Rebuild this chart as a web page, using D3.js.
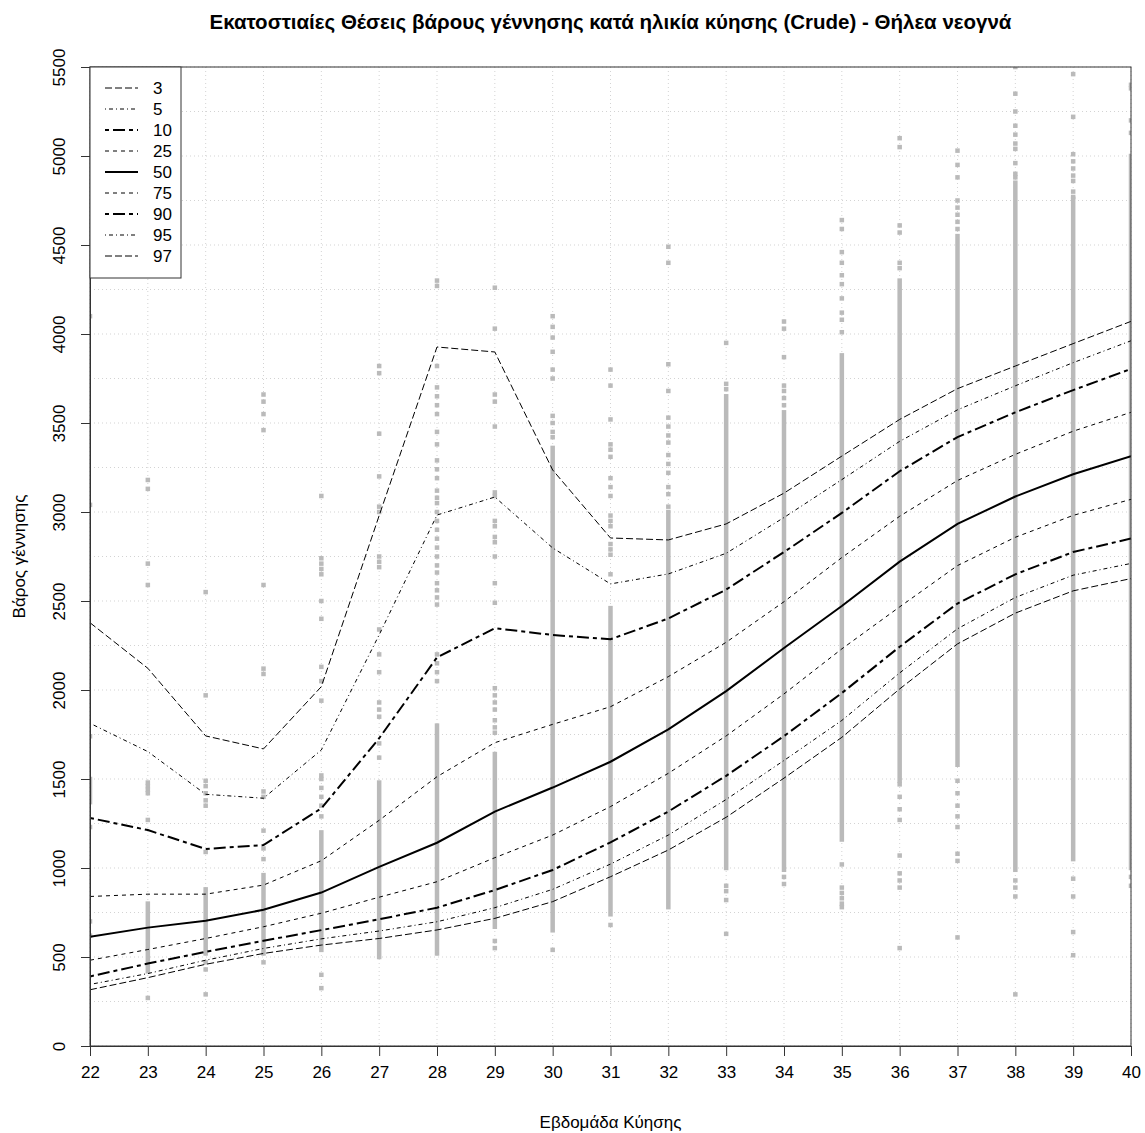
<!DOCTYPE html>
<html><head><meta charset="utf-8">
<script src="https://cdn.jsdelivr.net/npm/d3@7"></script>
<style>body{margin:0;background:#fff}svg{display:block}text{font-family:"Liberation Sans",Arial,sans-serif}</style>
</head><body>
<svg id="chart" width="1145" height="1133"></svg>
<script>
const weeks = [22,23,24,25,26,27,28,29,30,31,32,33,34,35,36,37,38,39,40];
const p3  = [316,384,459,520,567,604,652,717,811,951,1101,1285,1505,1734,2006,2259,2432,2557,2626];
const p5  = [346,407,482,548,602,646,698,777,880,1022,1185,1385,1604,1829,2096,2344,2520,2645,2711];
const p10 = [391,463,529,591,651,712,777,876,989,1144,1317,1518,1741,1983,2243,2486,2650,2775,2851];
const p25 = [482,542,604,670,746,836,923,1058,1185,1345,1532,1742,1978,2231,2467,2699,2858,2981,3071];
const p50 = [614,665,704,765,862,1006,1142,1317,1452,1597,1779,1994,2236,2472,2721,2933,3087,3212,3314];
const p75 = [840,853,853,904,1041,1268,1513,1704,1807,1906,2075,2268,2496,2744,2976,3177,3324,3454,3560];
const p90 = [1281,1213,1107,1129,1335,1729,2183,2347,2309,2285,2402,2564,2775,2995,3229,3421,3560,3685,3804];
const p95 = [1813,1654,1414,1392,1663,2310,2983,3084,2798,2596,2652,2768,2969,3182,3397,3574,3709,3839,3962];
const p97 = [2378,2122,1742,1669,2019,2980,3927,3899,3236,2854,2843,2933,3106,3314,3520,3693,3820,3946,4071];
const legendLabels = ["3","5","10","25","50","75","90","95","97"];
const yTicks = [0,500,1000,1500,2000,2500,3000,3500,4000,4500,5000,5500];
// observed birth weights: dense column ranges and isolated values, per week
const bandLo = [1370,420,520,520,540,500,520,670,650,740,780,1000,990,1160,1490,1580,990,1050,1000];
const bandHi = [1500,800,880,960,1200,1480,1800,1640,3360,2460,3000,3650,3560,3880,4300,4550,4850,4760,5000];
const isolated = [
 [4100,3040,1740,1230,700,620],
 [3180,3130,2710,2590,1480,1460,1440,1420,1270,270],
 [2550,1970,1490,1460,1420,1380,1350,1090,470,430,290],
 [3660,3620,3550,3460,2590,2120,2090,1430,1400,1210,1110,1050,470],
 [3090,2740,2710,2680,2650,2500,2400,2130,2050,1940,1520,1500,1450,1400,1350,1290,400,325],
 [3820,3780,3440,3200,3030,3000,2750,2720,2690,2340,2200,2100,1930,1890,1850,1700,1620],
 [4300,4270,3820,3700,3650,3600,3550,3450,3380,3290,3240,3190,3120,3080,3050,3000,2950,2900,2850,2800,2750,2700,2660,2600,2560,2520,2480,2200,2150,2100,2050],
 [4260,4030,3660,3620,3480,3110,3090,2950,2920,2860,2830,2750,2600,2490,2010,1970,1930,1890,1830,1790,1760,590,550],
 [4100,4040,3980,3900,3800,3750,3540,3500,3450,3420,540],
 [3800,3710,3520,3380,3350,3310,3190,3140,3090,2980,2950,2920,2820,2790,2760,2650,680],
 [4490,4400,3830,3680,3530,3480,3430,3390,3320,3270,3220,3140,3100,3030],
 [3950,3720,3690,900,870,820,630],
 [4070,4030,3870,3710,3680,3640,3600,950,910],
 [4640,4590,4460,4400,4330,4280,4200,4120,4080,4010,1020,890,860,830,800,780],
 [5100,5050,4610,4570,4400,4370,1470,1400,1330,1270,1070,970,930,890,550],
 [5030,4950,4880,4750,4710,4670,4630,4590,1490,1420,1350,1290,1230,1080,1040,610],
 [5500,5350,5250,5170,5120,5070,5040,4960,4900,4880,930,890,840,290],
 [5460,5220,5010,4970,4930,4890,4860,4800,4770,940,840,640,510],
 [5400,5380,5200,5130,950,900]
];

const series = [p3,p5,p10,p25,p50,p75,p90,p95,p97];
const styles = [
 {w:1, d:"7,3"}, {w:1, d:"1,3,4,3"}, {w:2, d:"4,4,12,4"}, {w:1, d:"4,4"}, {w:2, d:null},
 {w:1, d:"4,4"}, {w:2, d:"4,4,12,4"}, {w:1, d:"1,3,4,3"}, {w:1, d:"7,3"}
];

const svg = d3.select("#chart");
const L=90, R=1131, T=67, B=1046;
const x = d3.scaleLinear().domain([22,40]).range([L,R]);
const y = d3.scaleLinear().domain([0,5500]).range([B,T]);

svg.append("defs").append("clipPath").attr("id","clip")
  .append("rect").attr("x",L).attr("y",T).attr("width",R-L).attr("height",B-T);

// grid
const grid = svg.append("g");
weeks.forEach(w => grid.append("line").attr("x1",x(w)).attr("x2",x(w)).attr("y1",T).attr("y2",B)
  .attr("stroke","#d3d3d3").attr("stroke-dasharray","1,3"));
d3.range(0,5501,250).forEach(v => grid.append("line").attr("x1",L).attr("x2",R).attr("y1",y(v)).attr("y2",y(v))
  .attr("stroke","#d3d3d3").attr("stroke-dasharray","1,3"));

// observations
const pts = svg.append("g").attr("clip-path","url(#clip)").attr("fill","#bababa");
const ps = 4.5;
weeks.forEach((w,i) => {
  pts.append("rect").attr("x",x(w)-ps/2).attr("y",y(bandHi[i])-ps/2).attr("width",ps)
    .attr("height",y(bandLo[i])-y(bandHi[i])+ps);
  isolated[i].forEach(v => pts.append("rect").attr("x",x(w)-ps/2).attr("y",y(v)-ps/2).attr("width",ps).attr("height",ps));
});

// percentile lines
const line = d3.line().x((d,i)=>x(weeks[i])).y(d=>y(d));
series.forEach((s,k) => {
  const p = svg.append("path").datum(s).attr("d",line).attr("fill","none").attr("stroke","#000")
    .attr("stroke-width",styles[k].w).attr("clip-path","url(#clip)");
  if (styles[k].d) p.attr("stroke-dasharray",styles[k].d);
});

// box
svg.append("rect").attr("x",L).attr("y",T).attr("width",R-L).attr("height",B-T)
  .attr("fill","none").attr("stroke","#333").attr("stroke-width",1);

// axes
const xa = svg.append("g").attr("transform",`translate(0,${B})`)
  .call(d3.axisBottom(x).tickValues(weeks).tickFormat(d3.format("d")).tickSize(10).tickSizeOuter(0));
xa.select(".domain").attr("stroke","#333");
xa.selectAll(".tick line").attr("stroke","#333");
xa.selectAll("text").attr("font-size","17px").attr("fill","#000").attr("y",20).attr("dy","0.71em");

const ya = svg.append("g").attr("transform",`translate(${L},0)`)
  .call(d3.axisLeft(y).tickValues(yTicks).tickFormat(d3.format("d")).tickSize(9).tickSizeOuter(0));
ya.select(".domain").attr("stroke","#333");
ya.selectAll(".tick line").attr("stroke","#333");
ya.selectAll("text").attr("font-size","17px").attr("fill","#000")
  .attr("transform","rotate(-90)").attr("x",0).attr("y",-25).attr("dy",0).attr("text-anchor","middle");

// titles
svg.append("text").attr("x",(L+R)/2).attr("y",29).attr("text-anchor","middle")
  .attr("font-size","20.5px").attr("font-weight","bold")
  .text("Εκατοστιαίες Θέσεις βάρους γέννησης κατά ηλικία κύησης (Crude) - Θήλεα νεογνά");
svg.append("text").attr("x",(L+R)/2).attr("y",1128).attr("text-anchor","middle")
  .attr("font-size","17px").text("Εβδομάδα Κύησης");
svg.append("text").attr("transform",`translate(25,${(T+B)/2}) rotate(-90)`).attr("text-anchor","middle")
  .attr("font-size","17px").text("Βάρος γέννησης");

// legend
const lg = svg.append("g");
lg.append("rect").attr("x",L).attr("y",T).attr("width",91).attr("height",211)
  .attr("fill","#fff").attr("stroke","#333");
legendLabels.forEach((lab,k) => {
  const yy = 88 + k*21;
  const l = lg.append("line").attr("x1",105).attr("x2",138).attr("y1",yy).attr("y2",yy)
    .attr("stroke","#000").attr("stroke-width",styles[k].w);
  if (styles[k].d) l.attr("stroke-dasharray",styles[k].d);
  lg.append("text").attr("x",153).attr("y",yy).attr("dy","0.36em").attr("font-size","17px").text(lab);
});
</script>
</body></html>
